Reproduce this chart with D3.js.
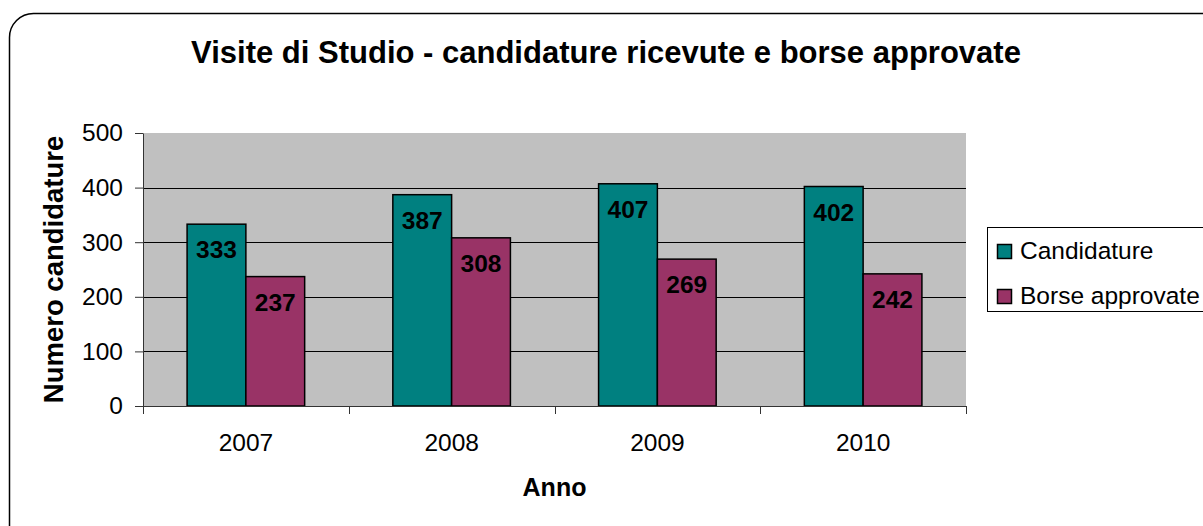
<!DOCTYPE html>
<html>
<head>
<meta charset="utf-8">
<script src="https://cdn.jsdelivr.net/npm/d3@7"></script>
<style>
  body { margin: 0; background: #fff; }
  svg text { font-family: Arial, "Liberation Sans", sans-serif; fill: #000; }
</style>
</head>
<body>
<div id="chart"></div>
<script>
// data
var years = ["2007", "2008", "2009", "2010"];
var candidature = [333, 387, 407, 402];
var borse = [237, 308, 269, 242];
var seriesNames = ["Candidature", "Borse approvate"];
var yTicks = [0, 100, 200, 300, 400, 500];

var W = 1203, H = 526;
var margin = {left: 143, right: 237, top: 133, bottom: 120};
var pw = W - margin.left - margin.right, ph = H - margin.top - margin.bottom;
var colors = ["#008080", "#993366"];
var fs = "24.5px";

var svg = d3.select("#chart").append("svg")
    .attr("width", W)
    .attr("height", H);

// outer frame (rounded, cut by the window)
svg.append("rect")
    .attr("x", 9.5).attr("y", 13.5)
    .attr("width", W + 40).attr("height", H + 40)
    .attr("rx", 24).attr("ry", 24)
    .attr("fill", "none")
    .attr("stroke", "#000")
    .attr("stroke-width", 1.5);

svg.append("text")
    .attr("x", 606).attr("y", 63)
    .attr("text-anchor", "middle")
    .attr("font-size", "31px")
    .attr("font-weight", "bold")
    .text("Visite di Studio - candidature ricevute e borse approvate");

var g = svg.append("g")
    .attr("transform", "translate(" + margin.left + "," + margin.top + ")");

var x = d3.scaleBand().domain(years).range([0, pw]);
var y = d3.scaleLinear().domain([0, 500]).range([ph, 0]);

// bar geometry like excel: gap width 150%
var barW = x.bandwidth() / 3.5;
var x1 = d3.scaleBand().domain([0, 1]).range([barW * 0.75, barW * 2.75]);

g.append("rect")
    .attr("width", pw).attr("height", ph)
    .attr("fill", "#c0c0c0");

// gridlines
g.append("g")
    .selectAll("line")
    .data(yTicks.filter(function (d) { return d > 0 && d < 500; }))
    .enter().append("line")
    .attr("x1", 0).attr("x2", pw)
    .attr("y1", function (d) { return Math.round(y(d)) + 0.5; })
    .attr("y2", function (d) { return Math.round(y(d)) + 0.5; })
    .attr("stroke", "#000")
    .attr("stroke-width", 1);

// bars
var series = [candidature, borse];
series.forEach(function (vals, s) {
    var bg = g.append("g");
    bg.selectAll("rect")
        .data(vals)
        .enter().append("rect")
        .attr("x", function (d, i) { return x(years[i]) + x1(s); })
        .attr("y", function (d) { return y(d); })
        .attr("width", x1.bandwidth())
        .attr("height", function (d) { return ph - y(d); })
        .attr("fill", colors[s])
        .attr("stroke", "#000")
        .attr("stroke-width", 1.5);
    bg.selectAll("text")
        .data(vals)
        .enter().append("text")
        .attr("x", function (d, i) { return x(years[i]) + x1(s) + x1.bandwidth() / 2; })
        .attr("y", function (d) { return y(d) + 34; })
        .attr("text-anchor", "middle")
        .attr("font-size", fs)
        .attr("font-weight", "bold")
        .text(function (d) { return d; });
});

// y axis
var yAxis = g.append("g")
    .call(d3.axisLeft(y).tickValues(yTicks).tickSize(8).tickSizeOuter(0).tickPadding(12));
yAxis.selectAll("text").attr("font-size", fs).attr("font-family", null);
yAxis.selectAll("line, path").attr("stroke", "#333");

// x axis, ticks at category boundaries
var xAxis = g.append("g")
    .attr("transform", "translate(0," + ph + ")")
    .call(d3.axisBottom(x).tickSize(0).tickPadding(28));
xAxis.selectAll("text").attr("font-size", fs).attr("font-family", null);
xAxis.select("path").attr("stroke", "#333");
xAxis.append("g")
    .selectAll("line")
    .data(years.concat(["end"]))
    .enter().append("line")
    .attr("x1", function (d, i) { return Math.round(i * x.step()) + 0.5; })
    .attr("x2", function (d, i) { return Math.round(i * x.step()) + 0.5; })
    .attr("y1", 0).attr("y2", 8)
    .attr("stroke", "#333");

// axis titles
svg.append("text")
    .attr("x", margin.left + pw / 2).attr("y", 496)
    .attr("text-anchor", "middle")
    .attr("font-size", "25px")
    .attr("font-weight", "bold")
    .text("Anno");

svg.append("text")
    .attr("transform", "translate(63," + (margin.top + ph / 2) + ") rotate(-90)")
    .attr("text-anchor", "middle")
    .attr("font-size", "27.5px")
    .attr("font-weight", "bold")
    .text("Numero candidature");

// legend
var leg = svg.append("g").attr("transform", "translate(987,227)");
leg.append("rect")
    .attr("x", 0.5).attr("y", 0.5)
    .attr("width", 260).attr("height", 84)
    .attr("fill", "#fff")
    .attr("stroke", "#000");
seriesNames.forEach(function (name, i) {
    leg.append("rect")
        .attr("x", 10.5).attr("y", 17.5 + i * 45)
        .attr("width", 14).attr("height", 14)
        .attr("fill", colors[i])
        .attr("stroke", "#000")
        .attr("stroke-width", 1.5);
    leg.append("text")
        .attr("x", 33).attr("y", 32 + i * 45)
        .attr("font-size", fs)
        .text(name);
});
</script>
</body>
</html>
